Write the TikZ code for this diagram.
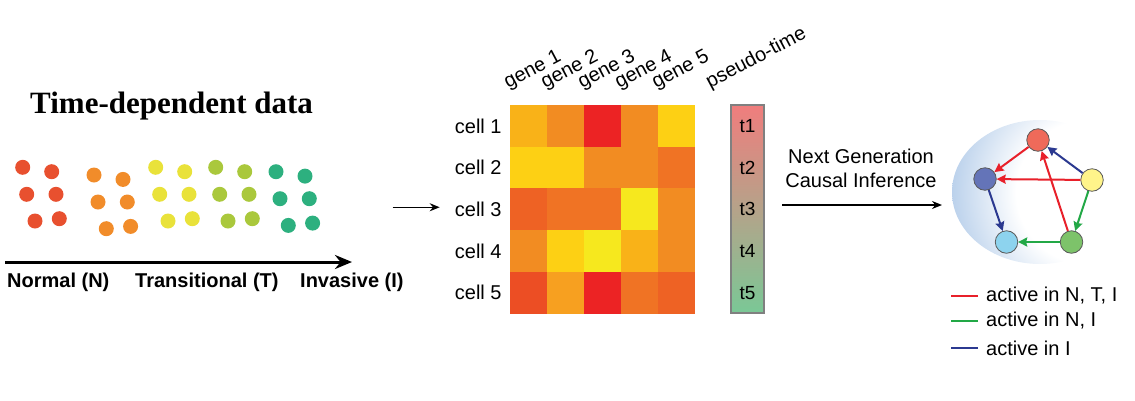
\documentclass[tikz,border=0pt]{standalone}
\usepackage{fontspec}
\setmainfont{Liberation Sans}
\newfontfamily\titlefont{Liberation Serif}
\usepackage{xcolor}
\usepackage{tikz}
\usetikzlibrary{positioning, shapes.geometric, arrows.meta}
\usetikzlibrary{calc}
% dots
\definecolor{dotred}{RGB}{232,80,47}
\definecolor{dotorange}{RGB}{241,140,42}
\definecolor{dotyellow}{RGB}{233,226,58}
\definecolor{dotlime}{RGB}{170,200,60}
\definecolor{dotgreen}{RGB}{45,176,127}
% heatmap
\definecolor{hmA}{RGB}{249,178,24}
\definecolor{hmB}{RGB}{242,140,34}
\definecolor{hmR}{RGB}{236,35,36}
\definecolor{hmY}{RGB}{253,208,20}
\definecolor{hmO}{RGB}{240,115,36}
\definecolor{hmL}{RGB}{246,232,30}
\definecolor{hmD}{RGB}{238,98,36}
\definecolor{hmE}{RGB}{236,78,36}
\definecolor{hmP}{RGB}{247,160,32}
\definecolor{barred}{RGB}{240,125,125}
\definecolor{bargreen}{RGB}{122,200,150}
% network
\definecolor{bubbleblue}{RGB}{185,208,235}
\definecolor{nred}{RGB}{239,106,90}
\definecolor{nblue}{RGB}{100,116,184}
\definecolor{nyellow}{RGB}{255,244,138}
\definecolor{ngreen}{RGB}{125,195,106}
\definecolor{nsky}{RGB}{141,211,238}
\definecolor{ered}{RGB}{232,32,42}
\definecolor{egreen}{RGB}{34,168,70}
\definecolor{eblue}{RGB}{43,57,144}
\pgfdeclareradialshading{bubbleshade}{\pgfpoint{0bp}{0bp}}{color(0bp)=(white); color(13bp)=(white); color(25bp)=(bubbleblue); color(50bp)=(bubbleblue)}
\tikzstyle{dot} = [circle, minimum size=15pt, inner sep=0pt]
\tikzstyle{cell} = [rectangle, minimum width=37pt, minimum height=41.7pt, inner sep=0pt]
\tikzstyle{stage} = [anchor=base west, inner sep=0pt, font=\bfseries\fontsize{20}{24}\selectfont]
\tikzstyle{coltext} = [anchor=base west, rotate=28, inner sep=0pt]
\tikzstyle{rowtext} = [anchor=east, inner sep=0pt]
\tikzstyle{gene} = [circle, draw=black!65, line width=0.8pt, minimum size=22.5pt, inner sep=0pt]
\tikzstyle{arrow} = [line width=1.5pt,->,>={Stealth[length=10pt,width=8pt]}]
\tikzstyle{axisarrow} = [line width=3pt,-{Stealth[length=17pt,width=14pt]}]
\tikzstyle{edge} = [line width=2pt,-{Stealth[length=9pt,width=9pt,inset=1pt]}]
\tikzstyle{every node}=[font=\fontsize{20}{24}\selectfont]

\begin{document}
\begin{tikzpicture}[x=1pt,y=-1pt]
		\useasboundingbox (0,0) rectangle (1135,400);
		%时间数据
		\node[anchor=base west, inner sep=0pt, font=\titlefont\bfseries\fontsize{31}{36}\selectfont] (title) at (30,113) {Time-dependent data};
		\foreach \gx/\gy/\col in {0/0/dotred, 71.3/7.7/dotorange, 133/0/dotyellow, 193/0/dotlime, 253.3/4.4/dotgreen}
		\foreach \px/\py [count=\i] in {22.7/167.3, 51.7/171.7, 26.7/194.3, 56/194.3, 35/221, 59.3/218.7}
		\node[dot, fill=\col] (\col-\i) at ({\gx+\px},{\gy+\py}) {};
		\coordinate (axstart) at (5,262);
		\coordinate (axend) at (352,262);
		\draw [axisarrow](axstart) -- (axend);
		\node (normal) [stage] at (7,287) {Normal (N)};
		\node (trans) [stage] at (135,287) {Transitional (T)};
		\node (inv) [stage] at (300,287) {Invasive (I)};
		
		%热图
		\foreach \row [count=\r] in {{hmA,hmB,hmR,hmB,hmY},{hmY,hmY,hmB,hmB,hmO},{hmD,hmO,hmO,hmL,hmB},{hmB,hmY,hmL,hmA,hmB},{hmE,hmP,hmR,hmO,hmD}}
		\foreach \c [count=\k] in \row
		\node (h-\r-\k) [cell, fill=\c] at ({510+37*\k-18.5},{105+41.7*\r-20.85}) {};
		\foreach \r in {1,...,5}
		\node (cell\r) [rowtext, left=8pt of h-\r-1] {cell \r};
		\foreach \k in {1,...,5}
		\node (gene\k) [coltext] at ({471+37*\k},89) {gene \k};
		\node (ptime) [coltext] at (710,89) {pseudo-time};
		\node (bar) [draw=black!50, line width=1.5pt, top color=barred, bottom color=bargreen, minimum width=33pt, minimum height=208pt, inner sep=0pt] at (747.5,209) {};
		\foreach \r in {1,...,5}
		\node (t\r) [font=\fontsize{19}{22}\selectfont] at (bar |- h-\r-1) {t\r};
		\draw [arrow]($(cell3.west)+(-62,-2)$) -- ($(cell3.west)+(-15,-2)$);
		
		%因果网络
		\node (ncinf) [align=center] at (861,168) {Next Generation\\Causal Inference};
		\coordinate (ncfrom) at (782,205);
		\coordinate (ncto) at (942,205);
		\draw [arrow](ncfrom) -- (ncto);
		\begin{scope}
			\clip (1040,192) ellipse [x radius=88pt, y radius=72pt];
			\shade[shading=bubbleshade] (1088,192) circle (138pt);
		\end{scope}
		\node (nodeR) [gene, fill=nred] at (1038,140) {};
		\node (nodeB) [gene, fill=nblue] at (985,179) {};
		\node (nodeY) [gene, fill=nyellow] at (1092,180) {};
		\node (nodeG) [gene, fill=ngreen] at (1071.5,242) {};
		\node (nodeC) [gene, fill=nsky] at (1006.5,242) {};
		\draw [edge, ered](nodeR) -- (nodeB);
		\draw [edge, eblue](nodeY) -- (nodeR);
		\draw [edge, ered](nodeY) -- (nodeB);
		\draw [edge, ered](nodeG) -- (nodeR);
		\draw [edge, egreen](nodeY) -- (nodeG);
		\draw [edge, egreen](nodeG) -- (nodeC);
		\draw [edge, eblue](nodeB) -- (nodeC);
		
		%图例
		\node (leg1) [anchor=west, inner sep=0pt] at (986,296) {active in N, T, I};
		\node (leg2) [anchor=west, inner sep=0pt] at (986,321) {active in N, I};
		\node (leg3) [anchor=west, inner sep=0pt] at (986,348) {active in I};
		\draw [ered, line width=2pt]($(leg1.west)-(8,0)$) -- ++(-27,0);
		\draw [egreen, line width=2pt]($(leg2.west)-(8,0)$) -- ++(-27,0);
		\draw [eblue, line width=2pt]($(leg3.west)-(8,0)$) -- ++(-27,0);
		
	\end{tikzpicture}
\end{document}
